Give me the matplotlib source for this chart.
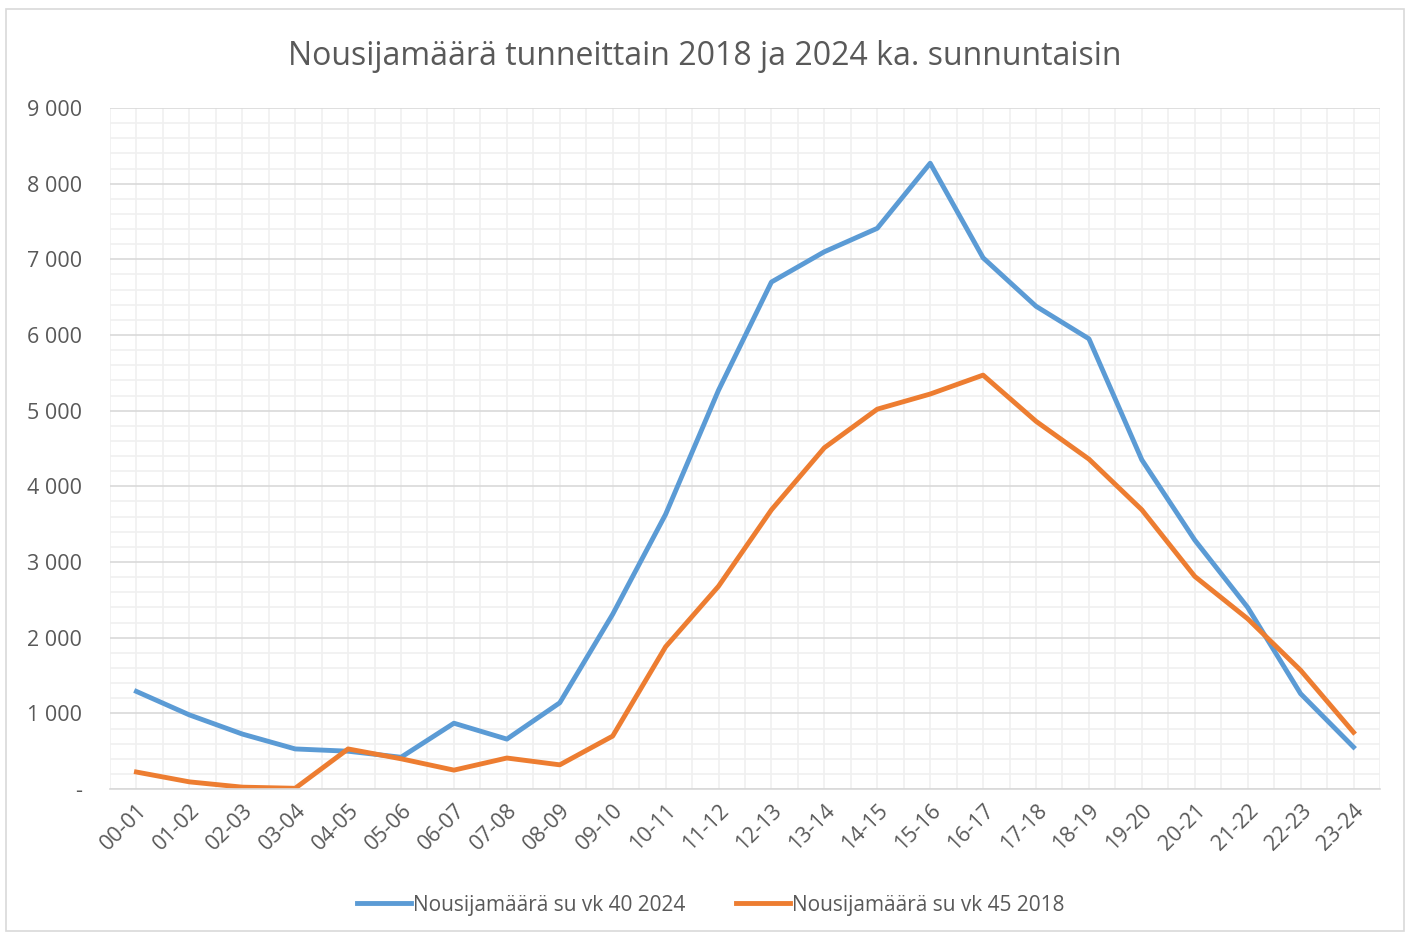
import matplotlib.pyplot as plt
from matplotlib.patches import Rectangle
from matplotlib.ticker import FuncFormatter, MultipleLocator

plt.rcParams['font.family'] = ['Open Sans', 'DejaVu Sans']

hours = ["00-01", "01-02", "02-03", "03-04", "04-05", "05-06", "06-07", "07-08",
         "08-09", "09-10", "10-11", "11-12", "12-13", "13-14", "14-15", "15-16",
         "16-17", "17-18", "18-19", "19-20", "20-21", "21-22", "22-23", "23-24"]

riders_2024 = [1290, 980, 727, 530, 500, 420, 870, 660, 1140, 2310, 3630, 5270,
               6700, 7100, 7410, 8270, 7020, 6380, 5950, 4350, 3290, 2400, 1260, 555]

riders_2018 = [225, 95, 25, 10, 530, 400, 250, 410, 320, 700, 1880, 2680,
               3690, 4510, 5020, 5220, 5470, 4860, 4360, 3690, 2810, 2250, 1570, 750]

label_2024 = "Nousijamäärä su vk 40 2024"
label_2018 = "Nousijamäärä su vk 45 2018"
title = "Nousijamäärä tunneittain 2018 ja 2024 ka. sunnuntaisin"

text_col = "#595959"

def fmt_thousands(v, pos):
    if v == 0:
        return "-"
    return f"{int(v):,}".replace(",", " ")

fig = plt.figure(figsize=(14.1, 9.35), dpi=100)
fig.patches.append(Rectangle((0.004, 0.004), 0.992, 0.986, transform=fig.transFigure,
                             fill=False, edgecolor="#D9D9D9", linewidth=1.2))
ax = fig.add_axes([0.078, 0.1561, 0.9007, 0.7284])

x = list(range(len(hours)))
ax.plot(x, riders_2024, color="#5B9BD5", linewidth=3.5, label=label_2024)
ax.plot(x, riders_2018, color="#ED7D31", linewidth=3.5, label=label_2018)

ax.set_xlim(-0.5, len(hours) - 0.5)
ax.set_ylim(0, 9000)
ax.yaxis.set_major_locator(MultipleLocator(1000))
ax.yaxis.set_minor_locator(MultipleLocator(200))
ax.yaxis.set_major_formatter(FuncFormatter(fmt_thousands))
ax.set_xticks(x)
ax.set_xticks([i - 0.5 for i in x] + [len(hours) - 0.5], minor=True)
ax.set_xticklabels(hours, rotation=45, ha="right", rotation_mode="anchor")

ax.grid(which="major", axis="y", color="#D9D9D9", linewidth=1.2)
ax.grid(which="minor", axis="y", color="#F0F0F0", linewidth=1.2)
ax.grid(which="both", axis="x", color="#F0F0F0", linewidth=1.2)
ax.set_axisbelow(True)

for s in ["top", "right", "left"]:
    ax.spines[s].set_visible(False)
ax.spines["bottom"].set_color("#D9D9D9")
ax.spines["bottom"].set_linewidth(1.2)

ax.tick_params(axis="both", which="both", length=0, colors=text_col, labelsize=15.5)
ax.tick_params(axis="y", pad=20)
ax.tick_params(axis="x", pad=8)

fig.text(0.5, 0.940, title, color=text_col, fontsize=23, ha="center", va="center")

fig.legend(loc="center", bbox_to_anchor=(0.504, 0.032), ncol=2, frameon=False,
           fontsize=15, labelcolor=text_col, handlelength=2.6, handletextpad=0.1,
           columnspacing=2.4)

fig.savefig("out.png", dpi=100)
